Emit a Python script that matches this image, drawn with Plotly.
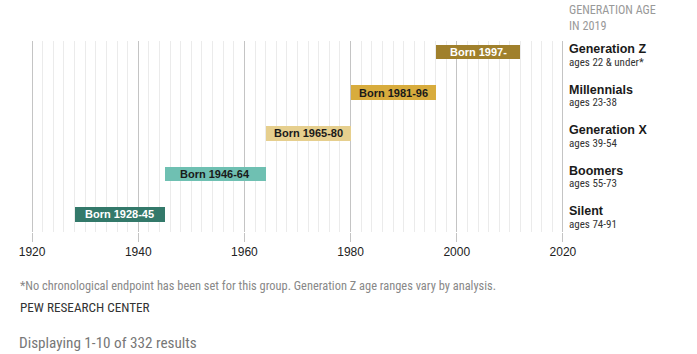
import plotly.graph_objects as go

# ---- data ----
generations = ["Silent", "Boomers", "Generation X", "Millennials", "Generation Z"]
age_labels = ["ages 74-91", "ages 55-73", "ages 39-54", "ages 23-38", "ages 22 & under*"]
bar_labels = ["Born 1928-45", "Born 1946-64", "Born 1965-80", "Born 1981-96", "Born 1997-"]
bar_start = [1928, 1945, 1964, 1980, 1996]
bar_end = [1945, 1964, 1980, 1996, 2012]
bar_colors = ["#33796a", "#6fc0b2", "#e6cf8e", "#d8ac3d", "#a0802c"]
text_colors = ["#ffffff", "#1a1a1a", "#1a1a1a", "#1a1a1a", "#ffffff"]
tick_vals = [1920, 1940, 1960, 1980, 2000, 2020]

rows = list(range(len(generations)))
NARROW = "Liberation Sans Narrow, Roboto Condensed, Liberation Sans, sans-serif"
SANS = "Liberation Sans, Arial, sans-serif"

L, R, T, B, W, H = 31, 133, 41, 122, 697, 354
PW = W - L - R
PH = H - T - B

fig = go.Figure()
fig.add_trace(go.Bar(
    y=rows,
    x=[e - s for s, e in zip(bar_start, bar_end)],
    base=bar_start,
    orientation="h",
    width=0.357,
    marker=dict(color=bar_colors, line=dict(width=0)),
    hoverinfo="skip",
    showlegend=False,
))

def px_x(p):
    return (p - L) / PW

def px_y(p):
    return (H - B - p) / PH

annotations = []
for i in rows:
    annotations.append(dict(
        x=(bar_start[i] + bar_end[i]) / 2, y=i, xref="x", yref="y",
        text="<b>" + bar_labels[i] + "</b>", showarrow=False,
        font=dict(family=SANS, size=11, color=text_colors[i]),
        xanchor="center", yanchor="middle",
    ))
    annotations.append(dict(
        x=px_x(567), y=i, xref="paper", yref="y",
        text="<b>" + generations[i] + "</b>", showarrow=False,
        font=dict(family=SANS, size=12.5, color="#1a1a1a"),
        xanchor="left", yanchor="middle", yshift=3,
    ))
    annotations.append(dict(
        x=px_x(567), y=i, xref="paper", yref="y",
        text=age_labels[i], showarrow=False,
        font=dict(family=NARROW, size=11, color="#333333"),
        xanchor="left", yanchor="middle", yshift=-10,
    ))

annotations += [
    dict(x=px_x(567), y=px_y(17.9), xref="paper", yref="paper",
         text="GENERATION AGE<br>IN 2019", align="left",
         showarrow=False, xanchor="left", yanchor="middle",
         font=dict(family=NARROW, size=12.2, color="#999999")),
    dict(x=px_x(18), y=px_y(285), xref="paper", yref="paper",
         text="*No chronological endpoint has been set for this group. Generation Z age ranges vary by analysis.",
         showarrow=False, xanchor="left", yanchor="middle",
         font=dict(family=NARROW, size=12.4, color="#888888")),
    dict(x=px_x(18), y=px_y(307), xref="paper", yref="paper",
         text="PEW RESEARCH CENTER",
         showarrow=False, xanchor="left", yanchor="middle",
         font=dict(family=NARROW, size=13.2, color="#333333")),
    dict(x=px_x(16.6), y=px_y(343), xref="paper", yref="paper",
         text="Displaying 1-10 of 332 results",
         showarrow=False, xanchor="left", yanchor="middle",
         font=dict(family=NARROW, size=15.2, color="#777777")),
]

fig.update_layout(
    width=W, height=H,
    margin=dict(l=L, r=R, t=T, b=B, pad=0),
    paper_bgcolor="white", plot_bgcolor="white",
    annotations=annotations,
    bargap=0,
    xaxis=dict(
        range=[1919.8, 2020.2], tickvals=tick_vals, ticktext=[str(v) for v in tick_vals],
        showgrid=True, gridcolor="#c4c4c4", gridwidth=1,
        ticks="outside", ticklen=9, tickcolor="#c4c4c4", tickwidth=1,
        minor=dict(dtick=2, tick0=1920, showgrid=True, gridcolor="#ebebeb", gridwidth=1, ticks=""),
        zeroline=False, showline=False,
        tickfont=dict(family=SANS, size=12, color="#222222"),
        fixedrange=True,
    ),
    yaxis=dict(
        range=[-0.431, 4.271], showgrid=False, zeroline=False, showticklabels=False,
        showline=False, ticks="", fixedrange=True,
    ),
)

fig.write_html("out.html")
